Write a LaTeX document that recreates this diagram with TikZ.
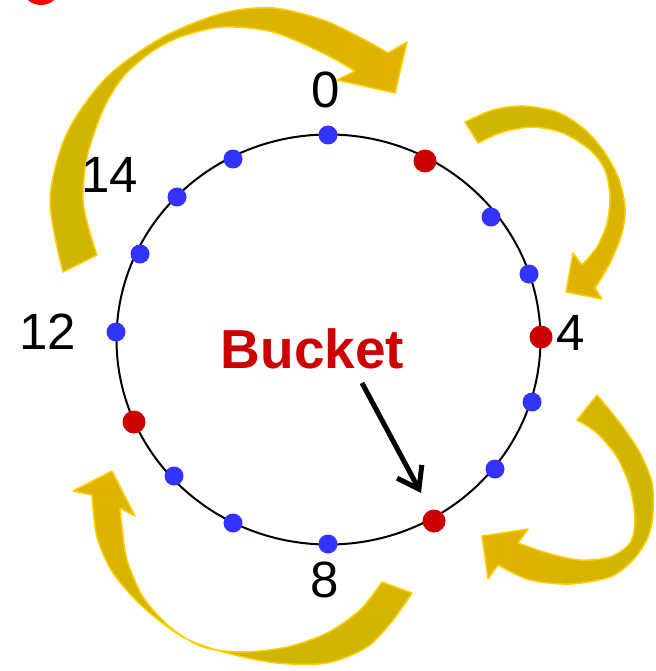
\documentclass[tikz,border=0pt]{standalone}
\usepackage{fontspec}
\setmainfont{Liberation Sans}
\usetikzlibrary{arrows.meta}
\definecolor{gold}{RGB}{214,182,0}
\definecolor{goldA}{RGB}{206,182,0}
\definecolor{goldB}{RGB}{226,178,0}
\definecolor{goldedge}{RGB}{255,206,0}
\definecolor{bred}{RGB}{204,0,0}
\definecolor{dotblue}{RGB}{51,51,255}
\begin{document}
\begin{tikzpicture}[x=1pt,y=-1pt,
  bluedot/.style={circle,fill=dotblue,inner sep=0pt,minimum size=19pt},
  reddot/.style={circle,fill=bred,inner sep=0pt,minimum size=23pt},
  band/.style={draw=goldedge,line width=1.5pt,line join=round},
  num/.style={font=\fontsize{51}{51}\selectfont,inner sep=0pt}]
\path[use as bounding box] (0,0) rectangle (655,671);
\begin{scope}
\clip (0,0) rectangle (655,671);
\fill[red] (41,-9) ellipse [x radius=17, y radius=14];
\end{scope}
% curved arrows
\path[band,left color=goldA,right color=goldB] plot[smooth] coordinates {(63,272) (50,200) (67,133) (107,77) (163,37) (223,13) (273,8) (323,20) (365,40) (388,53)}
  -- (407,42) -- (395,93) -- (337,80) --
  plot[smooth] coordinates {(355,71) (323,53) (273,32) (223,27) (180,37) (150,53) (123,77) (103,110) (87,157) (83,200) (90,233) (97,255)} -- cycle;
\path[band,top color=goldA,bottom color=goldB] plot[smooth] coordinates {(465,122) (493,110) (523,106) (557,112) (583,128) (603,150) (618,177) (625,207) (622,233) (610,263) (595,288)}
  -- (602,299) -- (566,292) -- (573,253) --
  plot[smooth] coordinates {(582,265) (597,247) (607,223) (610,197) (605,170) (590,150) (563,133) (533,127) (503,132) (478,143)} -- cycle;
\path[band,right color=goldA,left color=goldB] plot[smooth] coordinates {(597,395) (620,423) (640,453) (652,483) (653,513) (648,537) (633,560) (610,577) (570,584) (530,580) (498,565)}
  -- (488,579) -- (482,536) -- (528,529) --
  plot[smooth] coordinates {(518,543) (547,553) (580,560) (610,557) (630,543) (635,520) (630,487) (617,457) (597,433) (577,420)} -- cycle;
\path[band,bottom color=goldA,top color=goldB] plot[smooth] coordinates {(412,593) (393,620) (367,647) (327,663) (277,663) (227,653) (183,637) (143,607) (113,573) (97,537) (92,495)}
  -- (73,491) -- (112,471) -- (135,516) --
  plot[smooth] coordinates {(120,508) (122,527) (127,560) (143,597) (170,627) (203,647) (243,652) (287,647) (327,633) (360,610) (382,582)} -- cycle;
% ring
\draw[line width=2pt] (328.5,339.5) ellipse [x radius=212, y radius=205];
\node[bluedot] (d0) at (328,135) {};
\node[reddot] (d1) at (425,161) {};
\node[bluedot] (d2) at (491,217) {};
\node[bluedot] (d3) at (529,274) {};
\node[reddot] (d4) at (541,337) {};
\node[bluedot] (d5) at (532,402) {};
\node[bluedot] (d6) at (495,469) {};
\node[reddot] (d7) at (434,521) {};
\node[bluedot] (d8) at (328,544) {};
\node[bluedot] (d9) at (233,523) {};
\node[bluedot] (d10) at (174,476) {};
\node[reddot] (d11) at (134,422) {};
\node[bluedot] (d12) at (116,332) {};
\node[bluedot] (d13) at (140,254) {};
\node[bluedot] (d14) at (177,197) {};
\node[bluedot] (d15) at (233,159) {};
% labels
\node[num] (l0) at (325.5,90) {0};
\node[num] (l14) at (109.5,175) {14};
\node[num] (l12) at (48,332) {12};
\node[num] (l4) at (571,333) {4};
\node[num] (l8) at (325,580) {8};
\node[font=\fontsize{55}{55}\selectfont\bfseries,text=bred,inner sep=0pt] (bucket) at (312.5,349) {Bucket};
\coordinate (bs) at (362,383);
\coordinate (bt) at (421,493);
\draw[line width=5pt,-{Straight Barb[length=20pt,width=28pt,line width=5pt]}] (bs) -- (bt);
\end{tikzpicture}
\end{document}
